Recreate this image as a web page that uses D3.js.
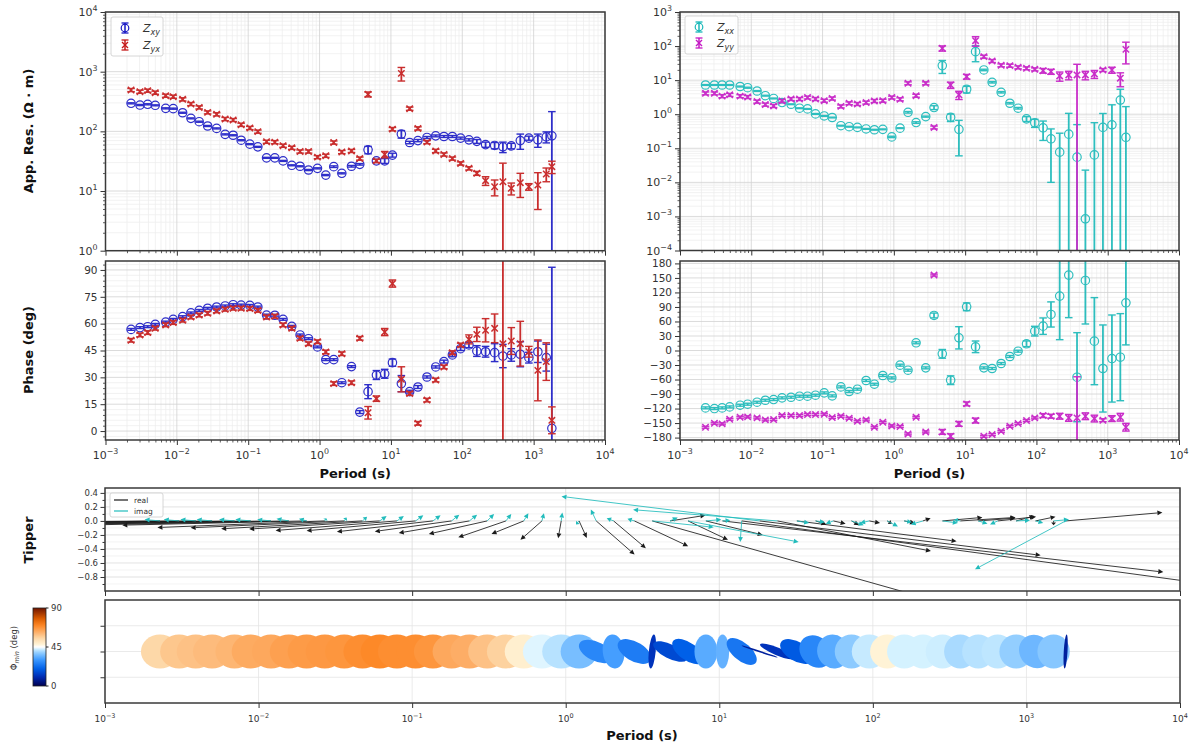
<!DOCTYPE html>
<html><head><meta charset="utf-8">
<script src="https://cdn.jsdelivr.net/npm/d3@7"></script>
<style>body{margin:0;background:#fff} text{font-family:"DejaVu Sans",sans-serif}</style>
</head><body><svg id="c" width="1196" height="747"></svg>
<script>
const periods=[0.00228,0.00304,0.0039,0.00498,0.00697,0.00889,0.01205,0.01574,0.02056,0.027,0.0361,0.0475,0.0615,0.0796,0.1054,0.1365,0.1807,0.236,0.308,0.408,0.533,0.70,0.935,1.222,1.58,2.05,2.80,3.66,4.78,6.26,8.18,10.5,14.0,18.3,23.9,32.0,42.4,55.3,72.6,94.8,124,160,212,284,371,486,650,857,1146,1503,1800];
const resXY=[295,276,284,273,243,240,205,165,145,123,112,89,86,71,61,55,36,36,32,27,26,22.5,24,18.5,25.6,19.8,26,28,49,32,32,40,90,65,70,79,84,82,82,77,72,68,60,58,55,57,70,77,72,81,84];
const resXYErr=[6,6,6,5,5,5,4,3,3,2.5,2.2,1.8,1.7,1.4,1.2,1.1,0.7,0.7,0.6,0.5,0.5,0.5,0.5,0.4,0.8,0.4,0.8,0.8,7,2,3,3,13,3,3,3,3,3,3,3,3,5,6,7,11,6,20,6,18,17,130];
const resYX=[493,462,481,445,396,381,344,287,252,208,193,161,155,129,114,99,67,66,57.5,53,46,46,37,39,65,45,47,35,417,32,41,109,937,240,112,66,47,41,35,29,24,19.8,14.9,11.8,14.3,11.1,13.8,11.8,12.6,19.3,25.6];
const resYXErr=[30,28,29,27,24,23,21,17,15,12,12,10,9,8,7,6,4,4,3.5,3.2,2.8,2.8,2.2,2.4,4,2.7,2.8,2.1,40,2,5,7,240,15,7,4,3,2.5,2.1,1.8,1.5,1.5,2.5,3.5,15,2.5,6,1.5,7.7,5,6];
const resXX=[7.2,7.2,7.2,7.2,6.5,6.0,4.8,3.5,2.9,2.2,1.96,1.5,1.43,1.02,0.89,0.80,0.46,0.43,0.41,0.37,0.35,0.36,0.216,0.39,1.14,0.57,0.85,1.57,26.7,0.81,0.36,5.4,68.7,19.9,8.65,4.4,2.1,1.5,0.73,0.56,0.40,0.19,0.077,0.26,0.055,0.00085,0.064,0.41,0.49,2.6,0.21];
const resXXErr=[0.2,0.2,0.2,0.2,0.2,0.2,0.15,0.1,0.08,0.06,0.05,0.04,0.04,0.03,0.025,0.02,0.012,0.012,0.011,0.01,0.01,0.01,0.01,0.01,0.06,0.03,0.03,0.2,11,0.2,0.3,1.2,34,1,0.4,0.2,0.1,0.08,0.12,0.15,0.23,0.18,0.2,0.8,0.44,0.022,0.5,0.64,1.4,2.8,1.46];
const resYY=[4.1,4.1,3.4,3.7,3.4,3.2,2.35,1.92,1.75,2.45,2.8,2.8,3.1,2.8,2.5,2.9,1.7,2.1,2.0,2.2,2.45,2.5,3.1,2.75,8.1,3.5,8.1,0.41,86,7.2,3.7,12.7,144,49,36.6,27.3,26.7,23.8,22.3,20.8,19.0,17.8,13.3,14.2,14.2,14.2,15.2,19.9,19.9,11.4,80];
const resYYErr=[0.4,0.4,0.35,0.37,0.34,0.32,0.24,0.2,0.18,0.25,0.28,0.28,0.3,0.28,0.25,0.3,0.17,0.2,0.2,0.22,0.25,0.25,0.3,0.28,0.8,0.35,0.8,0.04,15,1.5,1,2,45,5,3.7,2.7,2.7,2.4,2.2,2.1,3,3,4,4,15,4,4,2,4,5,50];
const phaseXY=[56.8,57.8,58.3,59.6,60.9,62.4,63.9,66,67.4,68.6,69.3,69.9,70.6,70.4,70.2,69.3,64.8,64.7,62.4,58.5,53.7,51.6,47,39.9,39.9,27,36,10.6,22,31.3,32,38.2,26.5,22,24.6,30.2,35.8,38.8,42.5,46,48.1,44.7,44.3,43.8,41.9,42.5,42.9,41,44.3,41,1.5];
const phaseXYErr=[0.5,0.5,0.5,0.5,0.5,0.5,0.5,0.5,0.5,0.5,0.5,0.5,0.5,0.5,0.5,0.5,0.5,0.5,0.5,0.5,0.5,0.5,0.5,0.5,0.5,0.5,0.5,0.8,3.9,2.5,2.5,2,4.5,0.8,0.8,0.6,0.6,0.8,1,1,1.5,3,3,5,6.5,3.5,7,3,6,7.5,90];
const phaseYX=[50.7,53.7,55,57.4,59.3,60.6,61.9,63.7,64.8,65.8,67.1,68,68.6,68.6,68.4,67.4,63.7,64.1,59.3,57.4,51.8,48.8,49.9,44.2,26.5,43.2,27,51.8,10.2,18.1,55.3,82.4,28.9,21,4.3,17.3,28.5,35.8,43.8,48.1,51.2,54,56.3,57.4,48.8,50.3,48.8,44.3,33.9,38.8,6];
const phaseYXErr=[1,1,1,1,1,1,1,1,1,1,1,1,1,1,1,1,1,1,1,1,1,1,1,1,1,1,1,1,3.5,1.5,2,2,7,1,1,1,1,1,1,1,2.5,4,6.5,8,100,7.5,12.5,3,17,10.5,7.5];
const phaseXX=[-118.6,-120,-118.6,-116.6,-113.1,-111,-106.9,-102.8,-101.4,-97.9,-96.6,-94.5,-94.5,-92.4,-87.6,-93.8,-75.2,-84.8,-80,-62,-69.7,-51.7,-56.6,-30.3,-40.7,15.9,-35.9,72.4,-6.9,-61.4,26.2,90.3,7.6,-35.9,-37.2,-26.9,-12.4,-1.4,13.8,40,50.3,74.5,112.4,155.9,-55.2,144.8,19.3,-37.2,-16.6,-13.8,98.6];
const phaseXXErr=[2,2,2,2,2,2,2,2,2,2,2,2,2,2,2,2,2,2,2,2,2,2,2,2,2,2,2,5,9,9,23,8,12,2,2,2,2,2,6,10,17,26,90,88,92,90,90,90,90,90,87];
const phaseYY=[-158.6,-150.3,-151.7,-142.1,-137.9,-137.2,-139.3,-143.4,-142.8,-134.5,-134.5,-134.5,-132.4,-132.4,-131.7,-138.6,-135.9,-140,-146.2,-143.4,-158.6,-148.3,-155.9,-157.2,-172.4,-137.9,-168.3,155.9,-168.3,-177.2,-151.7,-110.3,-144.8,-177.2,-173.8,-166.9,-156.6,-151,-144.8,-139.3,-134.5,-135.9,-135.9,-139.3,-139.3,-135.9,-140.7,-144.1,-140.7,-137.9,-158.6];
const phaseYYErr=[2,2,2,2,2,2,2,2,2,2,2,2,2,2,2,2,2,2,2,2,2,2,2,2,2,2,2,2,5,5,5,4,5,2,2,2,2,2,2,2,4,4,6,7,85,7,7,3,6,8,8];
// tipper arrow components (x in decades of period, y in tipper units)
const tipRealX=[-1.50,-1.46,-1.43,-1.40,-1.37,-1.33,-1.30,-1.25,-1.20,-1.09,-1.00,-0.92,-0.85,-0.79,-0.71,-0.625,-0.50,-0.46,-0.38,-0.31,-0.21,-0.14,-0.02,0.05,0.25,0.21,0.35,1.70,0.23,0.26,0.37,2.87,3.30,1.83,1.00,1.04,0.07,0.08,0.05,0.07,0.03,0.07,0.05,0.26,0.36,0.24,0.25,0.12,0.13,0.0,0.63];
const tipRealY=[-0.03,-0.035,-0.04,-0.04,-0.045,-0.05,-0.05,-0.055,-0.06,-0.094,-0.098,-0.112,-0.116,-0.136,-0.14,-0.154,-0.15,-0.172,-0.186,-0.234,-0.186,-0.27,-0.248,-0.242,-0.48,-0.39,-0.36,-1.05,0.08,-0.27,-0.20,-0.73,-0.98,-0.49,-0.43,-0.29,-0.05,-0.04,-0.06,-0.03,-0.04,-0.03,0.04,0.05,0.05,0.04,0.06,0.07,0.06,-0.06,0.12];
const tipImagX=[-0.10,-0.10,-0.10,-0.10,-0.10,-0.10,-0.09,-0.08,-0.05,0.01,0.016,0.03,0.045,0.045,0.05,0.05,0.05,0.05,0.045,0.035,0.03,0.013,0.007,-0.02,-0.035,-0.045,-0.045,0.40,0.05,0.72,0.1,0.05,-0.01,-1.29,-0.94,0.08,0.06,-0.05,0.08,-0.06,0.07,0.05,-0.08,0.1,-0.04,0.06,-0.05,0.09,0.05,0.1,-0.59];
const tipImagY=[0.02,0.02,0.02,0.02,0.02,0.02,0.02,0.03,0.03,0.04,0.05,0.06,0.07,0.07,0.08,0.08,0.09,0.09,0.10,0.10,0.11,0.11,0.12,-0.05,0.164,0.04,0.03,-0.09,0.05,-0.30,0.02,0.01,-0.30,0.35,0.16,-0.03,-0.02,-0.04,-0.06,-0.03,-0.08,-0.02,-0.05,-0.03,0.02,-0.04,-0.05,0.01,-0.03,0.02,-0.69];
// phase tensor ellipses
const phimin=[55,58,59,60,61,63,63.5,65,66,66.5,67,68.5,69.5,68.5,68.5,67,63.5,62.5,59,56,49,43.5,41,36,27,31,25,12,16,20,33,34,24,8,12,19,27,33,38,42,48,43,43,42.5,40,41,41.5,38.5,35,37.5,8];
const ellRatio=[1,1,1,1,1,1,1,1,1,1,1,1,1,1,1,1,1,1,1,1,1,1,1,0.97,0.55,0.57,0.55,0.18,0.4,0.5,0.6,0.35,0.5,0.05,0.22,0.55,0.8,0.85,0.88,0.92,0.9,0.9,0.88,0.88,0.85,0.85,0.85,0.88,0.85,0.85,0.1];
const ellAngle=[0,0,0,0,0,0,0,0,0,0,0,0,0,0,0,0,0,0,0,0,0,0,0,0,-60,-5,-55,5,-60,-50,0,0,-45,-70,-65,-55,-30,-10,0,0,0,0,0,0,0,0,0,0,-20,0,3];

const svg=d3.select("#c");
const C={xy:"#1818c4",yx:"#c41818",xx:"#18b8b8",yy:"#c418c4"};
const SUPM="\u2212";
let clipN=0;
function clip(x0,y0,x1,y1){const id="cl"+(clipN++);svg.append("clipPath").attr("id",id).append("rect").attr("x",x0).attr("y",y0).attr("width",x1-x0).attr("height",y1-y0);return "url(#"+id+")";}
function expStr(v){const e=Math.round(Math.log10(v));return e<0?SUPM+(-e):""+e;}
function powLabel(g,x,y,v,size,anchor){const t=g.append("text").attr("x",x).attr("y",y).attr("text-anchor",anchor).attr("font-size",size).attr("fill","#333");t.append("tspan").text("10");t.append("tspan").attr("dy",-size*0.45).attr("font-size",size*0.72).text(expStr(v));return t;}
const decades=d3.range(-3,5).map(e=>Math.pow(10,e));
function minorLog(lo,hi){const a=[];for(let e=lo;e<hi;e++)for(let k=2;k<=9;k++)a.push(k*Math.pow(10,e));return a;}

function gridLines(g,x,y,xv,yv,col,w){
  const[x0,x1]=x.range(),[y0,y1]=y.range();
  xv.forEach(v=>g.append("line").attr("x1",x(v)).attr("x2",x(v)).attr("y1",y0).attr("y2",y1).attr("stroke",col).attr("stroke-width",w));
  yv.forEach(v=>g.append("line").attr("x1",x0).attr("x2",x1).attr("y1",y(v)).attr("y2",y(v)).attr("stroke",col).attr("stroke-width",w));
}
function frame(x,y){const[x0,x1]=x.range(),[y0,y1]=y.range();svg.append("rect").attr("x",x0).attr("y",y1).attr("width",x1-x0).attr("height",y0-y1).attr("fill","none").attr("stroke","#3a3a3a").attr("stroke-width",1.5);}
function styleAxis(g){g.select(".domain").remove();g.selectAll("line").attr("stroke","#333").attr("stroke-width",1);}
function xAxis(x,yPix,minor,labels,size,ly){
  const g=svg.append("g").attr("transform",`translate(0,${yPix})`);
  g.call(d3.axisBottom(x).tickValues(decades).tickSize(5).tickFormat(""));styleAxis(g);
  if(minor){const g2=svg.append("g").attr("transform",`translate(0,${yPix})`);g2.call(d3.axisBottom(x).tickValues(minorLog(-3,4)).tickSize(2.5).tickFormat(""));styleAxis(g2);g2.selectAll("line").attr("stroke-width",0.8);}
  if(labels)decades.forEach(v=>powLabel(svg,x(v),ly,v,size,"middle"));
}

function series(g,x,y,vals,errs,color,marker,logY){
  periods.forEach((T,i)=>{
    const v=vals[i],e=errs[i],cx=x(T);
    const lo=v-e,hi=v+e;
    const yLo=(logY&&lo<=0)?y.range()[0]+40:y(lo),yHi=y(hi);
    g.append("line").attr("x1",cx).attr("x2",cx).attr("y1",yLo).attr("y2",yHi).attr("stroke",color).attr("stroke-width",1.8);
    [yLo,yHi].forEach(yy=>g.append("line").attr("x1",cx-3.8).attr("x2",cx+3.8).attr("y1",yy).attr("y2",yy).attr("stroke",color).attr("stroke-width",1.4));
    const cy=y(v);
    if(marker==="o")g.append("circle").attr("cx",cx).attr("cy",cy).attr("r",4.2).attr("fill","none").attr("stroke",color).attr("stroke-width",1.2);
    else g.append("path").attr("d",`M${cx-3.2},${cy-3.2}L${cx+3.2},${cy+3.2}M${cx-3.2},${cy+3.2}L${cx+3.2},${cy-3.2}`).attr("stroke",color).attr("stroke-width",1.5);
  });
}
function legendEntry(g,x,y,color,marker,sub){
  g.append("line").attr("x1",x).attr("x2",x).attr("y1",y-5).attr("y2",y+5).attr("stroke",color).attr("stroke-width",1.5);
  [y-5,y+5].forEach(yy=>g.append("line").attr("x1",x-3.5).attr("x2",x+3.5).attr("y1",yy).attr("y2",yy).attr("stroke",color).attr("stroke-width",1.3));
  if(marker==="o")g.append("circle").attr("cx",x).attr("cy",y).attr("r",3.8).attr("fill","none").attr("stroke",color).attr("stroke-width",1.2);
  else g.append("path").attr("d",`M${x-3},${y-3}L${x+3},${y+3}M${x-3},${y+3}L${x+3},${y-3}`).attr("stroke",color).attr("stroke-width",1.4);
  const t=g.append("text").attr("x",x+18).attr("y",y+4).attr("font-size",11).attr("font-style","italic").attr("fill","#333");
  t.append("tspan").text("Z");t.append("tspan").attr("dy",2.5).attr("font-size",8).text(sub);
}
function legendBox(x,y,w,h){svg.append("rect").attr("x",x).attr("y",y).attr("width",w).attr("height",h).attr("rx",2).attr("fill","#fff").attr("fill-opacity",0.85).attr("stroke","#ccc").attr("stroke-width",0.8);}

// ---------- Resistivity panels ----------
function resPanel(xr,yDom,yr,labelsY,A,B){
  const x=d3.scaleLog().domain([1e-3,1e4]).range(xr);
  const y=d3.scaleLog().domain(yDom).range(yr);
  const lo=Math.round(Math.log10(yDom[0])),hi=Math.round(Math.log10(yDom[1]));
  const gg=svg.append("g");
  gridLines(gg,x,y,minorLog(-3,4),minorLog(lo,hi),"#ececec",0.7);
  gridLines(gg,x,y,decades,d3.range(lo,hi+1).map(e=>Math.pow(10,e)),"#d2d2d2",0.8);
  const gy=svg.append("g").attr("transform",`translate(${xr[0]},0)`);
  gy.call(d3.axisLeft(y).tickValues(d3.range(lo,hi+1).map(e=>Math.pow(10,e))).tickSize(5).tickFormat(""));styleAxis(gy);
  const gy2=svg.append("g").attr("transform",`translate(${xr[0]},0)`);
  gy2.call(d3.axisLeft(y).tickValues(minorLog(lo,hi)).tickSize(2.5).tickFormat(""));styleAxis(gy2);gy2.selectAll("line").attr("stroke-width",0.8);
  d3.range(lo,hi+1).forEach(e=>powLabel(svg,xr[0]-8,y(Math.pow(10,e))+4,Math.pow(10,e),11,"end"));
  xAxis(x,yr[0],true,false);
  const g=svg.append("g").attr("clip-path",clip(xr[0],yr[1],xr[1],yr[0])).attr("opacity",0.9);
  series(g,x,y,A.v,A.e,A.c,"o",true);
  series(g,x,y,B.v,B.e,B.c,"x",true);
  frame(x,y);
  return {x,y};
}
resPanel([105.5,605],[1,1e4],[250.7,12],true,{v:resXY,e:resXYErr,c:C.xy},{v:resYX,e:resYXErr,c:C.yx});
resPanel([680,1179],[1e-4,1e3],[250.5,12],true,{v:resXX,e:resXXErr,c:C.xx},{v:resYY,e:resYYErr,c:C.yy});
legendBox(111,17,52,39);legendEntry(svg,125,28,C.xy,"o","xy");legendEntry(svg,125,45,C.yx,"x","yx");
legendBox(685,16,53,38);legendEntry(svg,699,27,C.xx,"o","xx");legendEntry(svg,699,43,C.yy,"x","yy");

// ---------- Phase panels ----------
function phasePanel(xr,yDom,major,minor,A,B){
  const x=d3.scaleLog().domain([1e-3,1e4]).range(xr);
  const y=d3.scaleLinear().domain(yDom).range([440,261]);
  const gg=svg.append("g");
  gridLines(gg,x,y,minorLog(-3,4),minor,"#ececec",0.7);
  gridLines(gg,x,y,decades,major,"#d2d2d2",0.8);
  const gy=svg.append("g").attr("transform",`translate(${xr[0]},0)`);
  gy.call(d3.axisLeft(y).tickValues(major).tickSize(5).tickFormat(""));styleAxis(gy);
  const gy2=svg.append("g").attr("transform",`translate(${xr[0]},0)`);
  gy2.call(d3.axisLeft(y).tickValues(minor).tickSize(2.5).tickFormat(""));styleAxis(gy2);gy2.selectAll("line").attr("stroke-width",0.8);
  major.forEach(v=>svg.append("text").attr("x",xr[0]-8).attr("y",y(v)+3.8).attr("text-anchor","end").attr("font-size",10.5).attr("fill","#333").text(v<0?SUPM+(-v):v));
  xAxis(x,440,true,true,11,459);
  svg.append("text").attr("x",(xr[0]+xr[1])/2).attr("y",478).attr("text-anchor","middle").attr("font-size",13).attr("font-weight","bold").attr("fill","#111").text("Period (s)");
  const g=svg.append("g").attr("clip-path",clip(xr[0],261,xr[1],440)).attr("opacity",0.9);
  series(g,x,y,A.v,A.e,A.c,"o",false);
  series(g,x,y,B.v,B.e,B.c,"x",false);
  frame(x,y);
}
phasePanel([105.5,605],[-5,95],d3.range(0,91,15),d3.range(-3,94,3).filter(v=>v%15!==0),{v:phaseXY,e:phaseXYErr,c:C.xy},{v:phaseYX,e:phaseYXErr,c:C.yx});
phasePanel([680,1179],[-185,185],d3.range(-180,181,30),d3.range(-180,181,10).filter(v=>v%30!==0),{v:phaseXX,e:phaseXXErr,c:C.xx},{v:phaseYY,e:phaseYYErr,c:C.yy});

// y labels
function yTitle(x,y,txt){svg.append("text").attr("transform",`translate(${x},${y}) rotate(-90)`).attr("text-anchor","middle").attr("font-size",13).attr("font-weight","bold").attr("fill","#111").text(txt);}
yTitle(33,131,"App. Res. (\u03A9 \u00B7 m)");
yTitle(33,350,"Phase (deg)");
yTitle(33,540,"Tipper");

// ---------- Tipper ----------
{
  const x=d3.scaleLog().domain([1e-3,1e4]).range([105,1180]);
  const y=d3.scaleLinear().domain([-1.0,0.47]).range([591,488]);
  const major=[-0.8,-0.6,-0.4,-0.2,0,0.2,0.4],minor=[-0.9,-0.7,-0.5,-0.3,-0.1,0.1,0.3];
  const gg=svg.append("g");
  gridLines(gg,x,y,[],minor,"#eeeeee",0.7);
  gridLines(gg,x,y,decades,major,"#dadada",0.8);
  const gy=svg.append("g").attr("transform","translate(105,0)");
  gy.call(d3.axisLeft(y).tickValues(major).tickSize(4.5).tickFormat(""));styleAxis(gy);
  const gy2=svg.append("g").attr("transform","translate(105,0)");
  gy2.call(d3.axisLeft(y).tickValues(minor).tickSize(2.5).tickFormat(""));styleAxis(gy2);
  major.forEach(v=>svg.append("text").attr("x",98).attr("y",y(v)+3).attr("text-anchor","end").attr("font-size",8.5).attr("fill","#333").text(v<0?SUPM+(-v).toFixed(1):v.toFixed(1)));
  xAxis(x,591,false,false);
  const g=svg.append("g").attr("clip-path",clip(105,488,1180,591));
  function arrow(T,dx,dy,col){
    const x0=x(T),y0=y(0),x1=x(T*Math.pow(10,dx)),y1=y(dy);
    const L=Math.hypot(x1-x0,y1-y0);if(L<0.5)return;
    const ux=(x1-x0)/L,uy=(y1-y0)/L,hl=Math.min(5,L*0.6),hw=2.4;
    const bx=x1-ux*hl,by=y1-uy*hl;
    g.append("line").attr("x1",x0).attr("y1",y0).attr("x2",bx).attr("y2",by).attr("stroke",col).attr("stroke-width",1).attr("stroke-opacity",0.85);
    g.append("path").attr("d",`M${x1},${y1}L${bx-uy*hw},${by+ux*hw}L${bx+uy*hw},${by-ux*hw}Z`).attr("fill",col);
  }
  periods.forEach((T,i)=>arrow(T,tipRealX[i],tipRealY[i],"#1a1a1a"));
  periods.forEach((T,i)=>arrow(T,tipImagX[i],tipImagY[i],"#22bcbc"));
  frame(x,y);
  legendBox(110,493,53,24);
  svg.append("line").attr("x1",114).attr("x2",128).attr("y1",500).attr("y2",500).attr("stroke","#1a1a1a").attr("stroke-width",1.2);
  svg.append("text").attr("x",134).attr("y",502.5).attr("font-size",7.5).attr("fill","#333").text("real");
  svg.append("line").attr("x1",114).attr("x2",128).attr("y1",511).attr("y2",511).attr("stroke","#22bcbc").attr("stroke-width",1.2);
  svg.append("text").attr("x",134).attr("y",513.5).attr("font-size",7.5).attr("fill","#333").text("imag");
}

// ---------- Phase tensor ellipses ----------
const cmap=d3.scaleLinear().domain([0,10,20,30,38,43,45,48,55,62,70,78,90])
  .range(["#00004f","#0028b0","#0060e8","#3b98ff","#8ccaff","#d4f2ff","#ffffff","#fff3d6","#fdd8a8","#fdb06a","#fd8624","#d85a00","#6e1400"]).interpolate(d3.interpolateRgb);
{
  const x=d3.scaleLog().domain([1e-3,1e4]).range([105,1180]);
  const y=d3.scaleLinear().domain([-2,2]).range([703,600]);
  const gg=svg.append("g");
  gridLines(gg,x,y,decades,[-1,0,1],"#e4e4e4",0.8);
  const gy=svg.append("g").attr("transform","translate(105,0)");
  gy.call(d3.axisLeft(y).tickValues([-1,0,1]).tickSize(4.5).tickFormat(""));styleAxis(gy);
  xAxis(x,703,false,true,9,722);
  const g=svg.append("g").attr("clip-path",clip(105,600,1180,703));
  const R=17;
  periods.forEach((T,i)=>{
    g.append("ellipse").attr("transform",`translate(${x(T)},${y(0)}) scale(1.12,1) rotate(${ellAngle[i]})`)
      .attr("rx",R*ellRatio[i]).attr("ry",R).attr("fill",cmap(phimin[i]));
  });
  frame(x,y);
  svg.append("text").attr("x",642).attr("y",740).attr("text-anchor","middle").attr("font-size",13).attr("font-weight","bold").attr("fill","#111").text("Period (s)");
  // colorbar
  const cb=d3.scaleLinear().domain([0,90]).range([686,608]);
  const grad=svg.append("defs").append("linearGradient").attr("id","cbg").attr("x1",0).attr("y1",1).attr("x2",0).attr("y2",0);
  d3.range(0,91,3).forEach(v=>grad.append("stop").attr("offset",v/90).attr("stop-color",cmap(v)));
  svg.append("rect").attr("x",33).attr("y",cb(90)).attr("width",13).attr("height",cb(0)-cb(90)).attr("fill","url(#cbg)").attr("stroke","#222").attr("stroke-width",0.8);
  [0,45,90].forEach(v=>{svg.append("line").attr("x1",46).attr("x2",48.5).attr("y1",cb(v)).attr("y2",cb(v)).attr("stroke","#222");
    svg.append("text").attr("x",51).attr("y",cb(v)+3).attr("font-size",8.5).attr("fill","#333").text(v);});
  const t=svg.append("text").attr("transform","translate(17,648) rotate(-90)").attr("text-anchor","middle").attr("font-size",8.5).attr("fill","#333");
  t.append("tspan").text("\u03A6");t.append("tspan").attr("dy",2).attr("font-size",6.5).attr("font-style","italic").text("min");t.append("tspan").attr("dy",-2).text(" (deg)");
}
</script></body></html>
